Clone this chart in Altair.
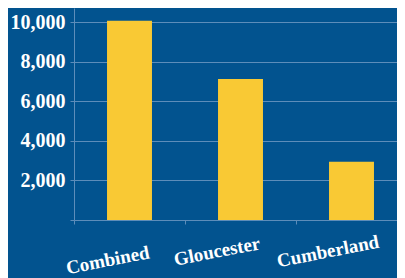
import altair as alt
import pandas as pd

categories = ["Combined", "Gloucester", "Cumberland"]
values = [10060, 7120, 2940]
y_ticks = [0, 2000, 4000, 6000, 8000, 10000]

df = pd.DataFrame({"category": categories, "value": values})

BG = "#02538f"
BAR = "#f9c934"
LINE = "#5d8dba"
FONT = "Liberation Serif"

chart = (
    alt.Chart(df)
    .mark_bar(color=BAR, width=alt.RelativeBandSize(0.405))
    .encode(
        x=alt.X(
            "category:N",
            sort=categories,
            title=None,
            scale=alt.Scale(paddingInner=0, paddingOuter=0, range=[0, 333]),
            axis=alt.Axis(
                tickBand="extent",
                labelAngle=-11,
                labelAlign="center",
                labelBaseline={
                    "condition": {"test": "datum.value == 'Combined'", "value": "top"},
                    "value": "middle",
                },
                labelOffset=-24,
                labelPadding=27,
                tickSize=4,
                tickColor=LINE,
                domainColor=LINE,
                labelFont=FONT,
                labelFontSize=19,
                labelFontWeight="bold",
                labelColor="white",
                grid=False,
            ),
        ),
        y=alt.Y(
            "value:Q",
            title=None,
            scale=alt.Scale(domain=[0, 10710], nice=False),
            axis=alt.Axis(
                values=y_ticks,
                labelExpr="datum.value == 0 ? '' : format(datum.value, ',')",
                tickSize=4,
                tickColor=LINE,
                domainColor=LINE,
                gridColor=LINE,
                labelPadding=5,
                labelFont=FONT,
                labelFontSize=20,
                labelFontWeight="bold",
                labelColor="white",
                labelBaseline="middle",
            ),
        ),
    )
    .properties(
        width=323,
        height=212,
        autosize="none",
        padding={"left": 66, "top": 0, "right": 0, "bottom": 58},
        background=BG,
    )
    .configure_view(stroke=None)
)

chart.save("out.html", embed_options={"renderer": "svg", "actions": False})
